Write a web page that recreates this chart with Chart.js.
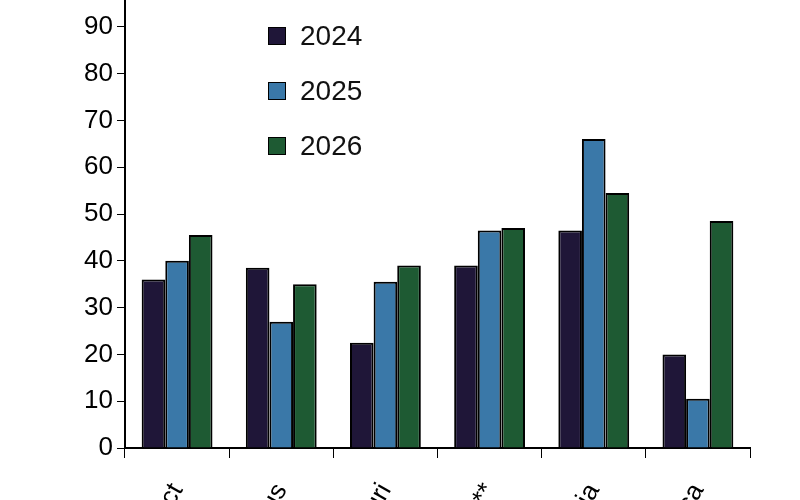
<!DOCTYPE html>
<html><head><meta charset="utf-8">
<script src="https://cdn.jsdelivr.net/npm/chart.js@4"></script>
<style>
html,body{margin:0;padding:0;background:#fff;overflow:hidden;width:800px;height:500px;position:relative;font-family:Arial,"Liberation Sans",sans-serif}
#wrap{position:absolute;left:0;top:-48px;width:800px;height:620px}
#legend{position:absolute;left:268px;top:8px;font-size:28px;color:#111}
#legend div{height:55px;display:flex;align-items:center}
#legend span.b{display:inline-block;width:16px;height:16px;border:1px solid #000;margin-right:14px}
</style></head><body>
<div id="wrap"><canvas id="c" width="800" height="620"></canvas></div>
<div id="legend"></div>
<script>
const categories=["Direct","Bus","Kauri","Other**","Asia","Africa"];
const seriesNames=["2024","2025","2026"];
const v2024=[36,38.5,22.5,39,46.5,20];
const v2025=[40,27,35.5,46.5,66,10.5];
const v2026=[45.5,35,39,47,54.5,48.5];
const colors=["#1f1638","#3a78a8","#1e5a33"];
const vals=[v2024,v2025,v2026];
document.getElementById('legend').innerHTML=seriesNames.map((n,i)=>`<div><span class="b" style="background:${colors[i]}"></span>${n}</div>`).join('');
new Chart(document.getElementById('c'),{type:'bar',
data:{labels:categories,datasets:seriesNames.map((n,i)=>({label:n,data:vals[i],backgroundColor:colors[i],borderColor:'#000',borderWidth:2,categoryPercentage:0.68,barPercentage:1}))},
options:{responsive:false,animation:false,events:[],
layout:{padding:{top:28,right:50,left:0,bottom:0}},
plugins:{legend:{display:false},tooltip:{enabled:false}},
scales:{
y:{min:0,max:100,ticks:{stepSize:10,color:'#000',font:{size:26,family:'Arial'},padding:4},
grid:{drawOnChartArea:false,color:'#000',tickLength:8},border:{color:'#000',width:2},
afterFit:a=>{a.width=125}},
x:{ticks:{color:'#000',font:{size:26,family:'Arial'},minRotation:60,maxRotation:60,padding:20},
grid:{offset:true,drawOnChartArea:false,color:'#000',tickLength:10},border:{color:'#000',width:2},
afterFit:a=>{a.height=124}}
}}});
</script></body></html>
